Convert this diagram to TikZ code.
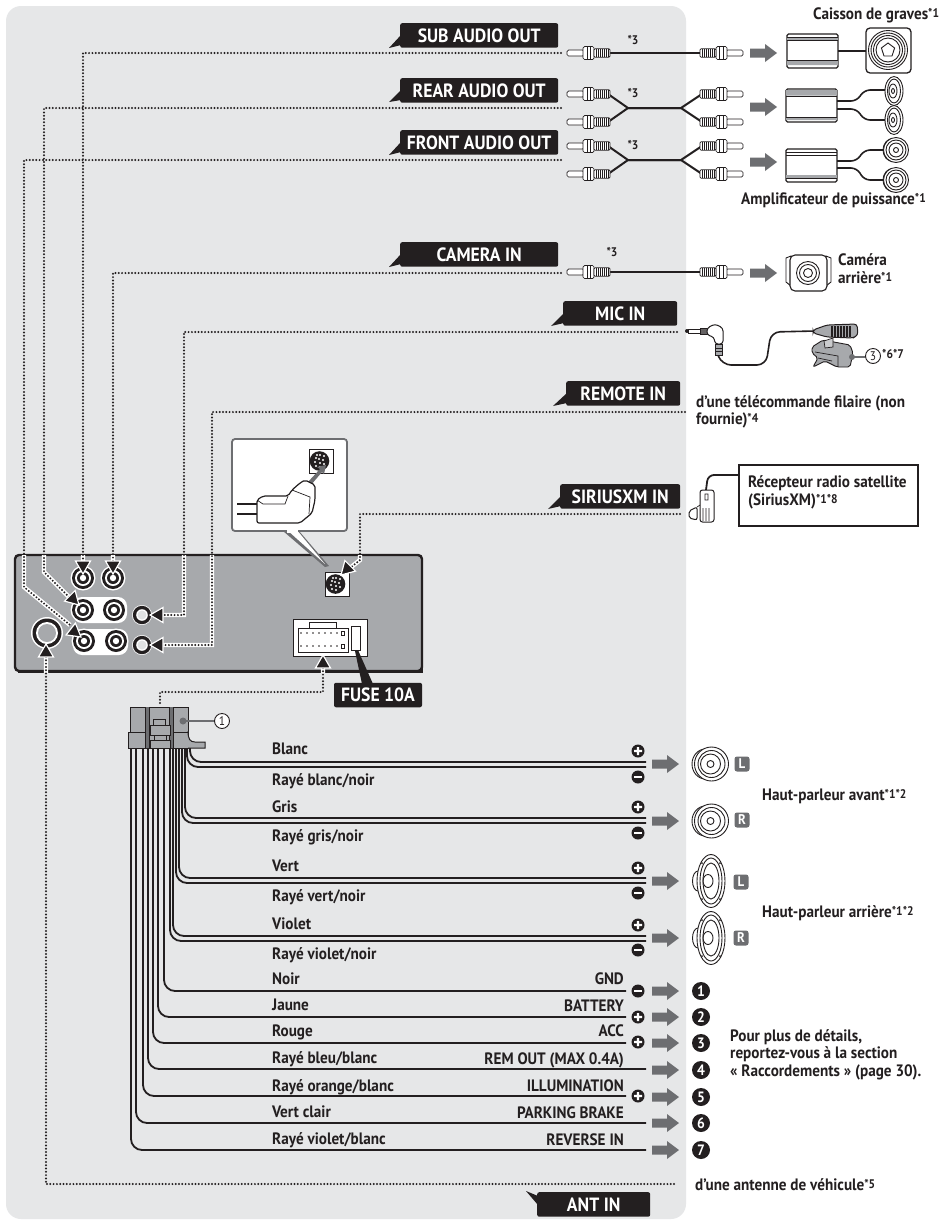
\documentclass[tikz,border=0pt]{standalone}
\usepackage{fontspec}
\setmainfont[FakeStretch=0.92]{PT Sans}
\usetikzlibrary{calc}
\definecolor{bgc}{HTML}{E6E7E8}
\definecolor{unitc}{HTML}{A7A9AC}
\definecolor{arrc}{HTML}{6D6E71}
\definecolor{boxc}{HTML}{231F20}
\newcommand\sx[1]{\raisebox{1.6pt}{\fontsize{12.5}{12.5}\selectfont #1}}
\tikzset{
 x=1pt,y=-1pt,
 lab/.style={fill=boxc,text=white,rounded corners=2,minimum height=24.5,inner sep=0,font=\fontsize{19.2}{19.2}\selectfont\bfseries},
 txt/.style={inner sep=0,text=boxc,anchor=base west,font=\fontsize{16.5}{17.5}\selectfont\bfseries,align=left},
 txtr/.style={txt,anchor=base east},
 conn/.style={line width=2.2,dash pattern=on 0pt off 3.3pt,line cap=round,draw=boxc},
 haloc/.style={line width=4.4,draw=white},
 wire/.style={line width=1.8,draw=boxc,rounded corners=11},
 thin1/.style={line width=.7,draw=boxc},
 pics/tip/.style={code={\draw[fill=boxc,draw=white,line width=1.2,line join=miter] (0,0)--(-13,-7.5)--(-13,7.5)--cycle;}},
 pics/garrow/.style={code={\fill[arrc] (0,-4.5)--(15,-4.5)--(15,-9)--(27,0)--(15,9)--(15,4.5)--(0,4.5)--cycle;}},
 pics/rca/.style={code={
   \draw[thin1,fill=white,rounded corners=1.5] (0,-3) rectangle (17,3);
   \draw[thin1,fill=white,rounded corners=1.5] (16,-6.5) -- (27,-6.5) -- (27,6.5) -- (16,6.5) -- cycle;
   \draw[thin1] (20,-6.5)--(20,6.5) (23.5,-6.5)--(23.5,6.5);
   \draw[thin1,fill=white,rounded corners=1] (27,-4.2) rectangle (43,4.2);
   \foreach \q in {29,31,...,41}{\draw[line width=.7,boxc] (\q,-3.6)--(\q,3.6);}
 }},
 pics/spkf/.style={code={
   \draw[line width=.9,boxc,fill=white] (-6,0) ellipse (13.5 and 15);
   \draw[line width=.9,boxc,fill=white] (0,0) circle (17);
   \draw[line width=.9,boxc] (0,0) circle (13.5);
   \draw[line width=.9,boxc] (-1,0) circle (10);
   \draw[line width=.9,boxc] (-1,0) circle (3.5);
 }},
 pics/spkr/.style={code={
   \draw[line width=.9,boxc,fill=white] (-13,0) ellipse (5.5 and 10);
   \draw[line width=.9,boxc,fill=white] (0,0) ellipse (14 and 26.5);
   \draw[line width=.9,boxc] (0,0) ellipse (11 and 23);
   \draw[line width=.9,boxc] (0,0) ellipse (8 and 18);
   \draw[line width=.9,boxc] (-3,0) ellipse (5 and 6.5);
   \fill[boxc] (-9,-18) circle (1) (9,-18) circle (1) (-9,18) circle (1) (9,18) circle (1);
 }},
 pics/spks/.style={code={
   \draw[line width=.9,boxc,fill=white] (0,0) ellipse (9 and 14.5);
   \draw[line width=.9,boxc] (0,0) ellipse (6.5 and 12);
   \draw[line width=.9,boxc] (-1,0) ellipse (4 and 7);
   \draw[line width=.9,boxc] (-1,0) ellipse (1.5 and 2.5);
 }},
 pics/spkc/.style={code={
   \draw[line width=.9,boxc,fill=white] (-3,0) ellipse (10 and 11.5);
   \draw[line width=.9,boxc,fill=white] (0,0) circle (12.5);
   \draw[line width=.9,boxc] (0,0) circle (10);
   \draw[line width=.9,boxc] (0,0) circle (7);
   \draw[line width=.9,boxc] (0,0) circle (2.5);
 }},
 pics/jack/.style={code={
   \fill[white] (0,0) circle (12.5);
   \fill[boxc] (0,0) circle (11);
   \fill[white] (0,0) circle (8);
   \fill[boxc] (0,0) circle (6);
   \fill[white] (0,0) circle (3.2);
 }},
 pics/din/.style={code={
   \draw[thin1,fill=white] (-12,-12) rectangle (12,12);
   \fill[boxc] (-1.5,0) circle (9.8);
   \foreach \a/\b in {-5/-3,-1/-6,3/-5,-6/1,-2/-2,2/-1,-5/5,-1/2,3/3,-1/6,-4/-6}{\fill[white] (\a,\b) circle (1.1);}
 }},
 pm/.style={circle,fill=boxc,text=white,minimum size=13,inner sep=0},
 badge/.style={fill=arrc,rounded corners=2.5,text=white,minimum size=15,inner sep=0,font=\fontsize{14}{14}\selectfont\bfseries},
 numc/.style={circle,fill=boxc,text=white,minimum size=18,inner sep=0,font=\fontsize{15}{15}\selectfont\bfseries},
 circn/.style={circle,draw=boxc,line width=.9,fill=white,text=boxc,minimum size=15,inner sep=0,font=\fontsize{12.5}{12.5}\selectfont},
}
\begin{document}
\begin{tikzpicture}
\useasboundingbox (0,0) rectangle (943,1224);
\fill[white] (0,0) rectangle (943,1224);
\fill[bgc,rounded corners=15] (6,6) rectangle (686,1219);

% head unit
\draw[line width=2.4,boxc,fill=unitc,rounded corners=4] (15,555) rectangle (422,671);
\draw[line width=2,boxc] (422,558)--(422,672)--(18,672);
\fill[white,rounded corners=9] (73,597) rectangle (127,623);
\fill[white,rounded corners=9] (73,629) rectangle (128,655);
\coordinate (jSub) at (83,578); \coordinate (jCam) at (113,578);
\coordinate (jRear) at (83,610); \coordinate (jFront) at (84,641);
\coordinate (jMic) at (142,615); \coordinate (jRem) at (142,645);
\coordinate (jAnt) at (47,633); \coordinate (jSir) at (337,584);
\coordinate (jPow) at (323,656);
\pic at (jSub) {jack}; \pic at (jCam) {jack};
\pic at (jRear) {jack}; \pic at (114,610) {jack};
\pic at (jFront) {jack}; \pic at (116,641) {jack};
\foreach \p in {jMic,jRem}{
 \fill[white] (\p) circle (10);
 \fill[boxc] (\p) circle (9.2);
 \fill[white] (\p) circle (5.8);
 \fill[unitc!35] (\p) circle (4.5);
}
\fill[white] (jAnt) circle (16);
\fill[boxc] (jAnt) circle (14.5);
\fill[white] (jAnt) circle (11);
\fill[unitc] (jAnt) circle (9);
\pic at (jSir) {din};

% power connector
\draw[thin1,fill=white,line width=.9] (293,619) rectangle (367,656);
\draw[thin1,fill=white,line width=.9] (298,628) rectangle (348,652);
\draw[thin1,fill=white,line width=.9] (309,622) rectangle (336,628);
\foreach \q in {301,307,...,337}{\fill[boxc] (\q,633) circle (.9) (\q,646) circle (.9);}
\draw[thin1,fill=white] (341,631) rectangle (344,635) (341,644) rectangle (344,648);
\draw[line width=1,boxc,fill=white] (351,626) rectangle (360,650);

% callout
\fill[arrc] (283,531)--(325,567)--(329,566)--(299,531)--cycle;
\fill[white] (286,529)--(325,564)--(296,529)--cycle;
\draw[line width=1.8,arrc,fill=white,rounded corners=3] (232,439) rectangle (347,531);
\fill[white] (286.5,526)--(298,526)--(298,533)--(286.5,533)--cycle;
\pic at (321,461) {din};
\fill[arrc] (308,482)--(320,469)--(317,467)--(326,465)--(324,474)--(322,472)--(311,485)--cycle;
\draw[line width=1.2,boxc] (237,504)--(257,504) (237,514)--(257,514);
\draw[line width=1.2,boxc,fill=white,rounded corners=2] (257,500)--(263,496)--(288,496)--(292,490)--(300,483)--(305,480)--(315,485)--(315,500)--(312,513)--(300,523)--(257,523)--cycle;
\draw[thin1] (288,496)--(285,504)--(263,504)--(257,500) (292,490)--(310,497)--(309,514);

% dotted connectors
\coordinate (subS) at (561,53); \coordinate (subC) at (83,53);
\coordinate (rearS) at (561,108); \coordinate (rearC) at (44,108); \coordinate (rearD) at (44,572);
\coordinate (frontS) at (561,160); \coordinate (frontC) at (24,160); \coordinate (frontD) at (24,587);
\coordinate (camS) at (561,273); \coordinate (camC) at (113,273);
\coordinate (micS) at (677,332); \coordinate (micC) at (184,332); \coordinate (micD) at (184,615);
\coordinate (remS) at (685,412); \coordinate (remC) at (212,412); \coordinate (remD) at (212,645);
\coordinate (sirS) at (680,514); \coordinate (sirC) at (360,514); \coordinate (sirD) at (360,560);
\coordinate (antS) at (674,1184); \coordinate (antC) at (46,1184);
\coordinate (powA) at (160,703); \coordinate (powB) at (160,692); \coordinate (powC) at (323,692);
\def\allconn{
 (subS)--(subC)--(83,566)
 (camS)--(camC)--(113,566)
 (rearS)--(rearC)--(rearD)--(70,598)
 (frontS)--(frontC)--(frontD)--(70,625)
 (micS)--(micC)--(micD)--(160,615)
 (remS)--(remC)--(remD)--(160,645)
 (sirS)--(sirC)--(sirD)--(350,568)
 (antS)--(antC)--(46,654)
 (powA)--(powB)--(powC)--(323,665)
}
\begin{scope}
\clip (15,555) rectangle (422,672);
\draw[haloc] \allconn;
\end{scope}
\draw[conn] \allconn;
\pic[rotate=-90] at (83,574) {tip};
\pic[rotate=-90] at (113,574) {tip};
\pic[rotate=-45] at (79,605) {tip};
\pic[rotate=-38] at (81,637) {tip};
\pic[rotate=180] at (150,615) {tip};
\pic[rotate=180] at (150,645) {tip};
\pic[rotate=-135] at (341,575) {tip};
\pic[rotate=90] at (46,644) {tip};
\pic[rotate=90] at (323,655) {tip};

% fuse label
\fill[boxc] (355,651)--(358,650)--(373,684)--(362,684)--cycle;
\node[lab,minimum width=88] (lFuse) at (378,695) {FUSE 10A};

% labels
\foreach \n/\t/\xa/\xb/\ya/\tipx/\tipy in {
 lSub/SUB AUDIO OUT/400/558/23/389/48,
 lRear/REAR AUDIO OUT/400/558/78/389/102,
 lFront/FRONT AUDIO OUT/400/558/130/389/155,
 lCam/CAMERA IN/400/558/242/389/267,
 lMic/MIC IN/563/677/301/551/326,
 lRem/REMOTE IN/566/680/381/553/406,
 lSir/SIRIUSXM IN/560/680/484/548/509}{
 \fill[boxc] (\xa+1,\ya+12)--(\tipx,\tipy)--(\xa+1,\ya+22)--cycle;
 \pgfmathsetmacro\boxw{\xb-\xa}
 \node[lab,minimum width=\boxw,anchor=north west] (\n) at (\xa,\ya) {\t};
}
\fill[boxc] (538,1205)--(526,1191)--(538,1196)--cycle;
\node[lab,minimum width=113,anchor=north west] (lAnt) at (537,1192) {ANT IN};

% RCA cables
\foreach \y in {53,272}{
 \draw[line width=2,boxc] (608,\y)--(702,\y);
 \pic at (567,\y) {rca};
 \pic[xscale=-1] at (743,\y) {rca};
}
\foreach \y in {108,160}{
 \draw[line width=2,boxc,line join=round] (608,\y-14)--(628,\y)--(681,\y)--(702,\y-14);
 \draw[line width=2,boxc,line join=round] (608,\y+14)--(628,\y)--(681,\y)--(702,\y+14);
 \pic at (567,\y-14) {rca}; \pic at (567,\y+14) {rca};
 \pic[xscale=-1] at (743,\y-14) {rca}; \pic[xscale=-1] at (743,\y+14) {rca};
}
\foreach \n/\a/\b in {s1/633/41,s2/633/94,s3/633/146,s4/612/253}{
 \node[txt,anchor=center] (\n) at (\a,\b) {\sx{*3}};
}
\foreach \y in {53,107,162,273}{\pic at (750,\y) {garrow};}

% amplifiers & speakers
\draw[line width=1.3,boxc,fill=white,rounded corners=1.5] (787,34) rectangle (838,68);
\fill[unitc] (787,37.5) rectangle (838,40) (787,61) rectangle (838,65);
\draw[thin1] (787,37)--(838,37) (787,40.5)--(838,40.5) (787,60.5)--(838,60.5);
\draw[line width=1.3,boxc] (838,51)--(866,51);
\draw[line width=1.3,boxc,fill=white,rounded corners=4] (866,28) rectangle (911,73);
\draw[line width=.9,boxc] (888,50) circle (19.5) (888,50) circle (17) (888,50) circle (14.5) (888,50) circle (12);
\draw[line width=.9,boxc] (888,43)--(894.6,48)--(892,56)--(884,56)--(881.4,48)--cycle;

\draw[line width=1.3,boxc,fill=white,rounded corners=1.5] (786,89) rectangle (837,122);
\fill[unitc] (786,90) rectangle (837,95.5) (786,117.5) rectangle (837,120);
\draw[line width=.9,boxc] (786,96)--(837,96) (786,117)--(837,117);
\draw[line width=1.6,boxc,rounded corners=6] (837,101)--(857,101)--(864,90)--(885,90);
\draw[line width=1.6,boxc,rounded corners=6] (837,109)--(857,109)--(864,120)--(885,120);
\pic at (894,91) {spks}; \pic at (894,120) {spks};

\draw[line width=1.3,boxc,fill=white,rounded corners=1.5] (786,149) rectangle (837,182);
\fill[unitc] (786,174.5) rectangle (837,178);
\draw[thin1,line width=.9] (786,152)--(837,152) (786,155)--(837,155) (786,178)--(837,178);
\draw[line width=1.6,boxc,rounded corners=6] (837,161)--(857,161)--(864,150)--(885,150);
\draw[line width=1.6,boxc,rounded corners=6] (837,168)--(857,168)--(864,180)--(885,180);
\pic at (896,150) {spkc}; \pic at (896,180) {spkc};
\node[txt] (tCais) at (813,19) {Caisson de graves\sx{*1}};
\node[txt] (tAmp) at (741,204) {Amplificateur de puissance\sx{*1}};

% camera
\draw[line width=.9,boxc,fill=white] (786,258)--(791,256)--(791,286)--(786,282)--cycle (831,258)--(826,256)--(826,286)--(831,282)--cycle;
\draw[line width=1.1,boxc,fill=white,rounded corners=5] (790,255) rectangle (827,291);
\draw[line width=.9,boxc] (808,273) circle (11.5) (808,273) circle (8.5) (808,273) circle (4.5);
\node[txt] (tCam) at (838,283) {Caméra\\arrière\sx{*1}};

% mic
\draw[line width=1.6,boxc,rounded corners=9] (718,355)--(722,365)--(766,365)--(771,332)--(815,331);
\fill[boxc] (687,331) circle (2);
\draw[thin1,fill=white] (688,329) rectangle (700,333.5);
\draw[thin1,fill=boxc!70] (700,328.5) rectangle (707,334);
\draw[line width=1,boxc,fill=white,rounded corners=3] (707,328)--(715,324)--(723,328)--(723,344)--(715,344)--(714,337)--(707,335)--cycle;
\draw[line width=1,boxc,fill=unitc] (715,344) rectangle (722,355);
\draw[line width=.9,boxc] (715,348)--(722,348) (715,351)--(722,351);
\draw[thin1,line width=.9,fill=unitc,rounded corners=2] (812,347)--(823,340)--(850,345)--(853,353)--(850,367)--(837,367)--(825,361)--(813,367)--(818,358)--(812,353)--cycle;
\draw[thin1,fill=unitc!60] (824,341)--(833,338)--(833,347)--(825,348)--cycle;
\draw[thin1] (815,352)--(838,356)--(838,366) (818,358)--(832,361);
\draw[line width=1,boxc,fill=unitc,rounded corners=3] (813,330)--(827,325)--(857,324)--(858,335)--(853,338)--(827,337)--(813,333)--cycle;
\foreach \q in {832,835,...,850}{\draw[line width=1.1,boxc] (\q,326)--(\q,337);}
\fill[arrc] (850,355.8) rectangle (866,357.8);
\fill[arrc] (852,357) circle (3);
\node[circn] (c3) at (873,356) {3};
\node[txt] (t67) at (882,360) {\sx{*6*7}};

% remote
\node[txt] (tRem) at (696,424.5) {d’une télécommande filaire (non\\fournie)\sx{*4}};

% sirius
\draw[line width=1.8,boxc,rounded corners=6] (739,475)--(708,475)--(706,490);
\draw[line width=1,boxc,fill=white,rounded corners=2] (689,511)--(697,507)--(697,520)--(689,518)--cycle;
\draw[line width=1,boxc,fill=white,rounded corners=2.5] (700,490) rectangle (714,522);
\draw[thin1] (697,507)--(700,505) (703,508)--(703,521) (706,508)--(706,521) (709,508)--(709,521) (705,494) rectangle (708,500);
\draw[line width=2,boxc,fill=white] (739,465) rectangle (918,526);
\node[txt] (tSir) at (748,505) {Récepteur radio satellite\\(SiriusXM)\sx{*1*8}};

% harness
\draw[line width=1,boxc,fill=unitc] (128,732) rectangle (188,748);
\draw[line width=1,boxc,fill=unitc] (130,707) rectangle (188,732);
\draw[line width=1,boxc,fill=unitc] (188,731)..controls (188,739) and (190,742)..(195,742)--(205,742)--(205,748)--(188,748);
\fill[arrc] (145,707) rectangle (149,748) (169,707) rectangle (173,748);
\draw[thin1] (145,707)--(145,748) (149,707)--(149,748) (169,707)--(169,748) (173,707)--(173,748);
\draw[thin1,fill=unitc] (153,719) rectangle (165,725) (150,725) rectangle (170,735) (154,735) rectangle (166,740) (150,740) rectangle (170,748);
\fill[arrc] (183,721) circle (3.5);
\fill[arrc] (183,720) rectangle (215,722);
\node[circn] (c1) at (222,721) {1};

% wires
\foreach \xx/\yy in {187/767,190/762,182/823,185/818,176/883,179/878,170/941,173/936}{
 \draw[wire] (\xx,748)|-(646,\yy);
}
\foreach \xx/\yy/\e in {164/991/626,158/1017/626,153/1043/626,148/1069/646,143/1096/626,136/1123/646,131/1150/646}{
 \draw[wire] (\xx,748)|-(\e,\yy);
}
\foreach \n/\y in {p1/751,p2/807,p3/868,p4/925,p5/1017,p6/1042,p7/1096}{
 \node[pm] (\n) at (638,\y) {};
 \fill[white] (634,\y-1.1) rectangle (642,\y+1.1) (636.9,\y-4) rectangle (639.1,\y+4);
}
\foreach \n/\y in {m1/777,m2/833,m3/893,m4/950,m5/991}{
 \node[pm] (\n) at (638,\y) {};
 \fill[white] (634,\y-1.1) rectangle (642,\y+1.1);
}
\foreach \y in {764,821,881,938,991,1017,1043,1070,1097,1123,1150}{\pic at (652,\y) {garrow};}

\pic at (711.5,764) {spkf}; \pic at (711.5,821) {spkf};
\pic at (711,881) {spkr}; \pic at (711,938) {spkr};
\node[badge] (bL1) at (742,764) {L};
\node[badge] (bR1) at (742,820) {R};
\node[badge] (bL2) at (741,882) {L};
\node[badge] (bR2) at (741,938) {R};
\node[txt] (tHa) at (762,800) {Haut-parleur avant\sx{*1*2}};
\node[txt] (tHr) at (762,917) {Haut-parleur arrière\sx{*1*2}};

\foreach \t/\y [count=\i] in {Blanc/754,{Rayé blanc/noir}/785,Gris/812,{Rayé gris/noir}/841,Vert/871,{Rayé vert/noir}/901,Violet/929,{Rayé violet/noir}/959,Noir/984,Jaune/1010,Rouge/1036,{Rayé bleu/blanc}/1063,{Rayé orange/blanc}/1091,Vert clair/1117,{Rayé violet/blanc}/1144}{
 \node[txt] (w\i) at (272,\y) {\t};
}
\node[txtr] (r1) at (624,984) {GND};
\node[txtr] (r2) at (624,1011) {BATTERY};
\node[txtr] (r3) at (624,1036) {ACC};
\node[txtr] (r4) at (624,1064) {REM OUT (MAX 0.4A)};
\node[txtr] (r5) at (624,1091) {ILLUMINATION};
\node[txtr] (r6) at (624,1118) {PARKING BRAKE};
\node[txtr] (r7) at (624,1145) {REVERSE IN};

\foreach \d/\y in {1/991,2/1017,3/1043,4/1070,5/1097,6/1123,7/1150}{
 \node[numc] (n\d) at (701,\y) {\d};
}
\node[txt] (tPlus) at (730,1076) {Pour plus de détails,\\reportez-vous à la section\\« Raccordements » (page 30).};
\node[txt] (tAnt) at (695,1190) {d’une antenne de véhicule\sx{*5}};
\end{tikzpicture}
\end{document}
